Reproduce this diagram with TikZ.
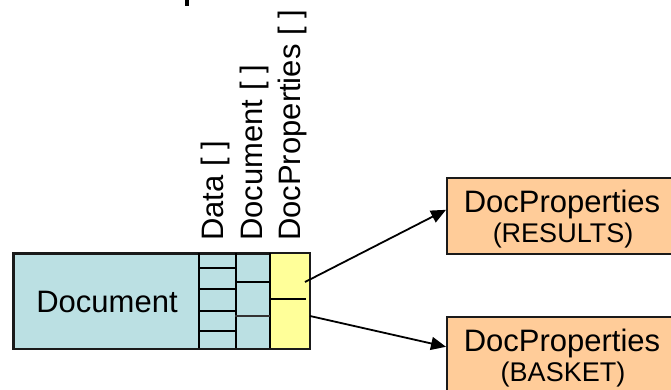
\documentclass[tikz,border=0pt]{standalone}
\usepackage{fontspec}
\setmainfont{Liberation Sans}
\usetikzlibrary{arrows.meta}
\definecolor{docblue}{HTML}{BBE0E3}
\definecolor{propyellow}{HTML}{FFFF99}
\definecolor{proporange}{HTML}{FFCC99}
\definecolor{edge}{HTML}{1A1A1A}
\tikzset{
  bigtext/.style={font=\fontsize{31}{36}\selectfont},
  smalltext/.style={font=\fontsize{27}{32}\selectfont},
  collabel/.style={rotate=90, anchor=west, inner sep=0pt, font=\fontsize{31}{36}\selectfont},
  propbox/.style={draw=edge, line width=1.6pt, fill=proporange, minimum width=232pt, minimum height=76pt, anchor=north west, align=center, inner sep=0pt},
  cellline/.style={draw=black, line width=1.9pt},
  thinline/.style={draw=black!80, line width=1.2pt},
  conn/.style={draw=black, line width=1.8pt, -{Triangle[length=15pt,width=13pt]}}
}
\begin{document}
\begin{tikzpicture}[x=1pt,y=-1pt]
\useasboundingbox (0,0) rectangle (671,390);
\clip (0,0) rectangle (671,390);
% fragment of a cut-off title
\fill[black] (185,0) rectangle (189,6);
% document record
\node[draw=edge, line width=1.6pt, fill=docblue, minimum width=296pt, minimum height=95pt, anchor=north west, inner sep=0pt] (outer) at (13,253) {};
\fill[propyellow] (270,253) rectangle (309,348);
\draw[draw=edge, line width=1.6pt] (outer.north west) rectangle (outer.south east);
\node[bigtext, inner sep=0pt] (doclabel) at (107,302) {Document};
% column separators
\draw[cellline] (199,253) -- (199,348);
\draw[cellline] (236,253) -- (236,348);
\draw[cellline] (270,253) -- (270,348);
% Data array cells
\draw[cellline] (198,268) -- (236,268);
\draw[cellline] (198,289) -- (236,289);
\draw[cellline] (198,311) -- (236,311);
\draw[cellline] (198,331) -- (236,331);
% Document array cells
\draw[cellline] (236,282) -- (270,282);
\draw[thinline] (235,316) -- (270,316);
% DocProperties array cells
\draw[cellline] (270,299) -- (306,299);
% column labels
\node[collabel] (ldata) at (215,241) {Data [ ]};
\node[collabel] (ldoc) at (254,241) {Document [ ]};
\node[collabel] (lprops) at (292,241) {DocProperties [ ]};
% target boxes
\node[propbox] (res) at (446,177) {};
\node[bigtext, anchor=base, inner sep=0pt] (res1) at (562,212) {DocProperties};
\node[smalltext, anchor=base, inner sep=0pt] (res2) at (563,242) {(RESULTS)};
\node[propbox] (bas) at (446,316) {};
\node[bigtext, anchor=base, inner sep=0pt] (bas1) at (562,351) {DocProperties};
\node[smalltext, anchor=base, inner sep=0pt] (bas2) at (563,381) {(BASKET)};
% connectors
\coordinate (a1) at (305,282);
\coordinate (a2) at (310,316);
\draw[conn] (a1) -- ([yshift=6pt]res.west);
\draw[conn] (a2) -- ([yshift=8pt]bas.west);
\end{tikzpicture}
\end{document}
